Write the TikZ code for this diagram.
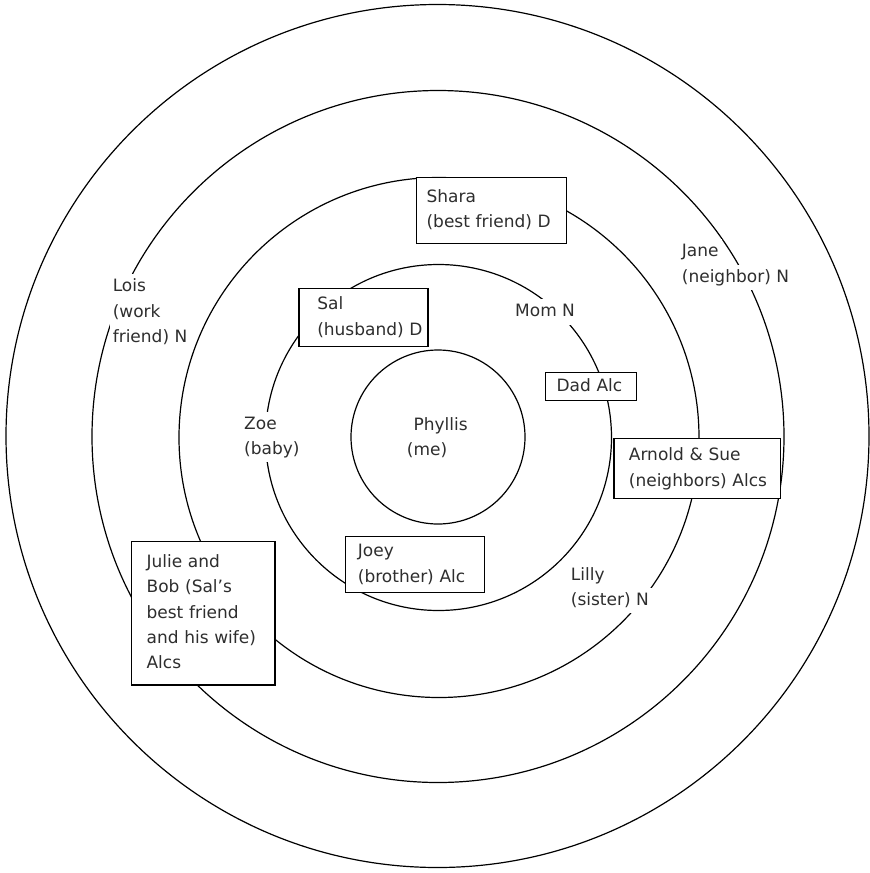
\documentclass[tikz,border=0pt]{standalone}
\usepackage{fontspec}
\setmainfont{DejaVu Sans}
\setlength{\fboxsep}{0pt}
\newcommand{\rowt}[1]{\mbox{\strut#1}}
\newcommand{\roww}[1]{\colorbox{white}{\hspace{3pt}\strut#1\hspace{3pt}}}
\begin{document}
\begin{tikzpicture}[x=1pt,y=-1pt,
  ring/.style={draw=black,line width=1.2pt},
  lbl/.style={align=left,inner sep=0pt,anchor=north west,font=\fontsize{17}{25.3}\selectfont,text=black!82},
  box/.style={lbl,draw=black,line width=1.2pt,fill=white,inner ysep=0pt}]
\useasboundingbox (0,0) rectangle (870,873);
\fill[white] (0,0) rectangle (870,873);
% concentric rings
\draw[ring] (437.5,436) circle[radius=431.5pt];
\draw[ring] (438,436.5) circle[radius=346pt];
\draw[ring] (439,437.5) circle[radius=260pt];
\draw[ring] (438.5,437.5) circle[radius=173pt];
\draw[ring] (438,437) circle[radius=87pt];
% boxed entries
\node[box,minimum width=150pt,minimum height=66pt,inner xsep=10pt,text width=130pt] (shara) at (416,176.5)
  {\rowt{Shara}\\\rowt{(best friend) D}};
\node[box,minimum width=129pt,minimum height=58pt,inner xsep=18.4pt,text width=92.2pt] (sal) at (298.3,287.7)
  {\rowt{Sal}\\\rowt{(husband) D}};
\node[box,minimum width=91pt,minimum height=28.3pt,inner xsep=11pt,text width=69pt] (dad) at (545,371.7)
  {\rowt{Dad Alc}};
\node[box,minimum width=166.7pt,minimum height=60pt,inner xsep=15pt,text width=136.7pt] (arnold) at (613.3,437.7)
  {\rowt{Arnold \& Sue}\\\rowt{(neighbors) Alcs}};
\node[box,minimum width=139pt,minimum height=56pt,inner xsep=12.3pt,text width=114.4pt] (joey) at (345,535.7)
  {\rowt{Joey}\\\rowt{(brother) Alc}};
\node[box,minimum width=143.6pt,minimum height=143.6pt,inner xsep=15.3pt,text width=113pt] (julie) at (130.7,540.7)
  {\rowt{Julie and}\\\rowt{Bob (Sal’s}\\\rowt{best friend}\\\rowt{and his wife)}\\\rowt{Alcs}};
% free labels
\node[lbl] (me) at (406.7,412.3) {\rowt{\hspace{6.6pt}Phyllis}\\\rowt{(me)}};
\node[lbl] (lois) at (109.6,274) {\roww{Lois}\\\roww{(work}\\\roww{friend) N}};
\node[lbl] (zoe) at (241,411.3) {\roww{Zoe}\\\roww{(baby)}};
\node[lbl] (mom) at (512,299) {\roww{Mom N}};
\node[lbl] (jane) at (678.7,239) {\roww{Jane}\\\roww{(neighbor) N}};
\node[lbl] (lilly) at (567.7,562.3) {\roww{Lilly}\\\roww{(sister) N}};
\end{tikzpicture}
\end{document}
